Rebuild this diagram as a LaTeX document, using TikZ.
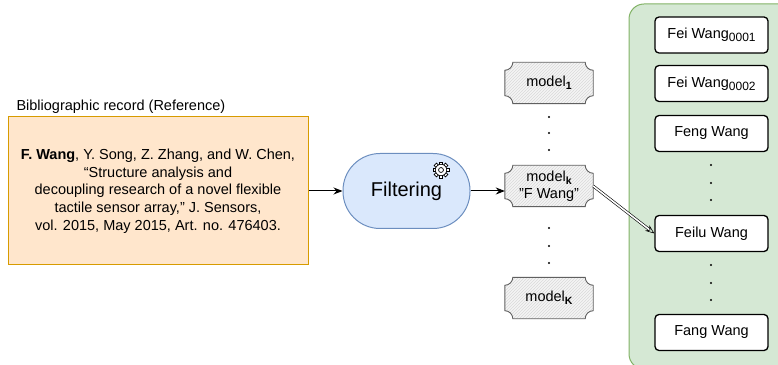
\documentclass[tikz,border=0pt]{standalone}
\usepackage{fontspec}
\setmainfont{Liberation Sans}
\usepackage{tikz}
\usetikzlibrary{arrows.meta,calc,patterns,positioning}
\definecolor{recfill}{HTML}{FFE6CC}
\definecolor{recdraw}{HTML}{D79B00}
\definecolor{filtfill}{HTML}{DAE8FC}
\definecolor{filtdraw}{HTML}{6C8EBF}
\definecolor{panelfill}{HTML}{D5E8D4}
\definecolor{paneldraw}{HTML}{82B366}
\newcommand{\subtx}[1]{\raisebox{-3pt}{\fontsize{12}{12}\selectfont #1}}
\newcommand{\subbf}[1]{\raisebox{-3pt}{\fontsize{10.5}{10.5}\selectfont\bfseries #1}}
\tikzset{%
	record/.style   = {draw=recdraw, fill=recfill, line width=1pt, minimum width=300pt, minimum height=148pt, align=center, font=\fontsize{14.5}{17.7}\selectfont}, % Reference
	filter/.style   = {draw=filtdraw, fill=filtfill, line width=1pt, rounded corners=37pt, minimum width=127pt, minimum height=75pt, font=\fontsize{20}{24}\selectfont},
	model/.style    = {minimum width=88pt, minimum height=41pt, align=center, inner sep=1pt, font=\fontsize{14.5}{17}\selectfont},
	plaque/.style   = {draw=gray!75!black, line width=0.9pt, preaction={fill=gray!8}, pattern=north east lines, pattern color=gray!30},
	namebox/.style  = {draw, line width=1.3pt, rounded corners=4pt, fill=white, minimum width=113pt, minimum height=36pt, font=\fontsize{14.5}{17}\selectfont},
	arrow/.style    = {line width=1pt, -{Stealth[length=9pt, width=7pt]}},
	dbl/.style      = {double, double distance=1.6pt, line width=0.6pt, -{Stealth[open, length=9pt, width=7pt]}},
	dot/.style      = {fill, circle, inner sep=0pt, minimum size=2.4pt},
}

\begin{document}
\begin{tikzpicture}[x=1pt,y=1pt]
	\useasboundingbox (0,0) rectangle (778,364);
	% panel of candidate names
	\draw[draw=paneldraw, fill=panelfill, line width=1pt, rounded corners=15pt] (629,-5) rectangle (800,360);
	
	\node[anchor=base west, font=\fontsize{14.5}{17}\selectfont] (title) at (13,253) {Bibliographic record (Reference)};
	\node[record] (bib) at (158,173) {\textbf{F. Wang}, Y. Song, Z. Zhang, and W. Chen,\\ “Structure analysis and\\ decoupling research of a novel flexible\\ tactile sensor array,” J. Sensors,\\ vol. 2015, May 2015, Art. no. 476403.};
	\node[filter] (filt) at (406.5,173) {Filtering};
	
	% gear icon
	\begin{scope}[shift={(441,194)}, scale=1.3, line width=0.7pt]
	\foreach \a in {0,45,...,315}
		\draw[fill=white, rotate=\a] (-1.3,3.6) rectangle (1.3,6.2);
	\draw[fill=white] (0,0) circle (4.4);
	\draw (0,0) circle (1.9);
	\end{scope}
	
	\node[model] (m1) at (549,281) {model\subbf{1}};
	\node[model] (mk) at (549,178) {model\subbf{k}\\"F Wang"};
	\node[model] (mK) at (549,66) {model\subbf{K}};
	\foreach \m in {m1,mk,mK}
		\draw[plaque] ($(\m.north west)+(8,0)$) -- ($(\m.north east)+(-8,0)$) arc[start angle=180, end angle=270, radius=8]
			-- ($(\m.south east)+(0,8)$) arc[start angle=90, end angle=180, radius=8]
			-- ($(\m.south west)+(8,0)$) arc[start angle=0, end angle=90, radius=8]
			-- ($(\m.north west)+(0,-8)$) arc[start angle=270, end angle=360, radius=8] -- cycle;
	\node[model] at (m1) {model\subbf{1}};
	\node[model] at (mk) {model\subbf{k}\\"F Wang"};
	\node[model] at (mK) {model\subbf{K}};
	
	\foreach \y in {247,231,214,136,118,101}
		\node[dot] at (549,\y) {};
	
	\node[namebox] (n1) at (711.5,329) {Fei Wang\subtx{0001}};
	\node[namebox] (n2) at (711.5,280.5) {Fei Wang\subtx{0002}};
	\node[namebox] (n3) at (711.5,230.5) {Feng Wang};
	\node[namebox] (n4) at (711.5,130.5) {Feilu Wang};
	\node[namebox] (n5) at (711.5,31.5) {Fang Wang};
	
	\foreach \y in {199,181,164,99,81,64}
		\node[dot] at (711,\y) {};
	
	\draw[arrow] (bib) -- (filt);
	\draw[arrow] (filt.east) -- (filt.east -| mk.west);
	\draw[dbl] (mk.east) -- (n4.west);
\end{tikzpicture}
\end{document}
